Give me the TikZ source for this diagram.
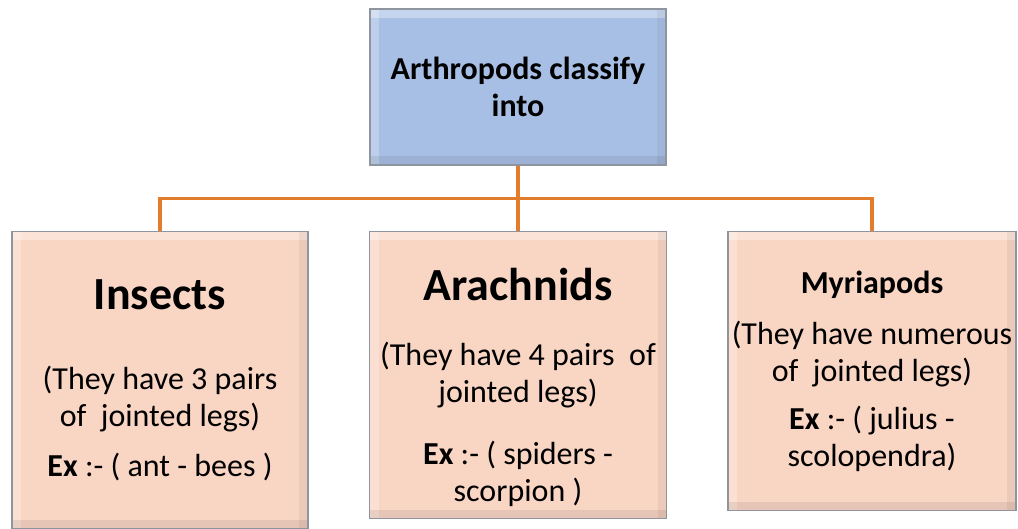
\documentclass[tikz,border=0pt]{standalone}
\usepackage{fontspec}
\setmainfont{Carlito}
\usetikzlibrary{positioning}

\definecolor{topblue}{HTML}{A8BFE5}
\definecolor{peach}{HTML}{F9D5C4}
\definecolor{edgegray}{HTML}{8E959E}
\definecolor{linkorange}{HTML}{E27D2E}

\newcommand{\bigtitle}{\fontsize{46}{52}\selectfont\bfseries}

\tikzset{
  bevel/.style={path picture={
    \fill[white, opacity=.35] (path picture bounding box.north west)
      rectangle ([yshift=-9pt]path picture bounding box.north east);
    \fill[white, opacity=.25] (path picture bounding box.north west)
      rectangle ([xshift=9pt]path picture bounding box.south west);
    \fill[black, opacity=.07] ([yshift=9pt]path picture bounding box.south west)
      rectangle (path picture bounding box.south east);
    \fill[black, opacity=.05] ([xshift=-9pt]path picture bounding box.north east)
      rectangle (path picture bounding box.south east);
  }}
}

\begin{document}
\begin{tikzpicture}[
  x=1pt, y=1pt,
  every node/.style={font=\fontsize{32}{37}\selectfont},
  topbox/.style ={draw=edgegray, line width=1.5pt, fill=topblue, bevel,
                  minimum width=296pt, minimum height=156pt,
                  align=center, inner sep=0pt},
  kindbox/.style={draw=edgegray, line width=1.5pt, fill=peach, bevel,
                  align=center, inner sep=0pt},
  link/.style   ={draw=linkorange, line width=3.5pt},
  node distance=60pt
]
\useasboundingbox (0,0) rectangle (1018,-529);

%% --- Top: the group -----------------------------------------
\node[topbox] (arthro) at (518,-87)
     {\bfseries Arthropods classify\\\bfseries into};

%% --- Middle class ------------------------------------------
\node[kindbox, minimum width=297pt, minimum height=287pt,
      below=65pt of arthro] (arach)
     {{\bigtitle\rule{0pt}{58pt}Arachnids}\\[28pt]
      (They have 4 pairs~ of\\
      jointed legs)\\[25pt]
      \textbf{Ex} :- ( spiders -\\
      scorpion )};

%% --- Side classes ------------------------------------------
\node[kindbox, minimum width=296pt, minimum height=297pt,
      left=of arach.north west, anchor=north east] (insects)
     {{\bigtitle Insects}\\[43pt]
      (They have 3 pairs\\
      of~ jointed legs)\\[13pt]
      \textbf{Ex} :- ( ant - bees )};

\node[kindbox, minimum width=288pt, minimum height=279pt,
      right=of arach.north east, anchor=north west] (myria)
     {\textbf{Myriapods}\\[14pt]
      (They have numerous\\
      of~ jointed legs)\\[11pt]
      \textbf{Ex} :- ( julius -\\
      scolopendra)};

%% --- Connectors --------------------------------------------
\draw[link] (arthro.south) -- ++(0,-33) coordinate (hub);
\draw[link] (insects.north) |- (hub) -| (myria.north);
\draw[link] (hub) -- (arach.north);

\end{tikzpicture}
\end{document}
